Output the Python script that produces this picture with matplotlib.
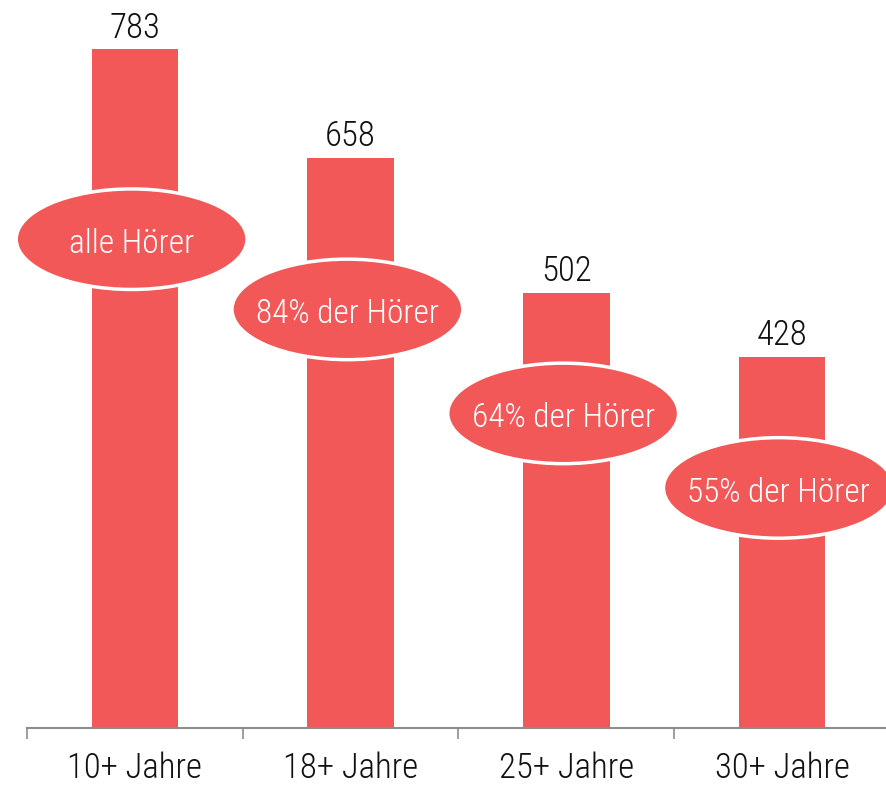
import matplotlib
matplotlib.use("Agg")
import matplotlib.pyplot as plt
from matplotlib.patches import Ellipse

# Daten
kategorien = ["10+ Jahre", "18+ Jahre", "25+ Jahre", "30+ Jahre"]
hoerer = [783, 658, 502, 428]
anteil_labels = ["alle Hörer", "84% der Hörer", "64% der Hörer", "55% der Hörer"]

# Layout der Ellipsen (Datenkoordinaten)
ellipse_y = [564, 483, 363, 277]
ellipse_w = 1.07
ellipse_h = 116

ROT = "#F25858"
TEXT = "#111111"

plt.rcParams["font.family"] = ["Roboto Condensed", "DejaVu Sans"]
plt.rcParams["font.weight"] = 300

fig = plt.figure(figsize=(8.87, 7.85), dpi=100)
W, H = 887, 785
ax = fig.add_axes([27 / W, (H - 728) / H, 863 / W, 728 / H])

x = list(range(len(kategorien)))
ax.bar(x, hoerer, width=0.4, color=ROT, zorder=2)

for xi, v in zip(x, hoerer):
    ax.annotate(str(v), (xi, v), xytext=(0, 8.5), textcoords="offset points",
                ha="center", va="baseline", fontsize=25, color=TEXT)

for xi, ey, lab in zip(x, ellipse_y, anteil_labels):
    e = Ellipse((xi - 0.015, ey), ellipse_w, ellipse_h, facecolor=ROT,
                edgecolor="white", linewidth=2.5, zorder=3, clip_on=False)
    ax.add_patch(e)
    ax.annotate(lab, (xi - 0.015, ey), xytext=(0, -10), textcoords="offset points",
                ha="center", va="baseline", fontsize=24, color="white", zorder=4)

ax.set_xlim(-0.5, 3.5)
ax.set_ylim(0, 840)

ax.set_xticks(x)
ax.set_xticklabels(kategorien, fontsize=25, color=TEXT)
ax.tick_params(axis="x", which="major", length=0, pad=17)
ax.set_xticks([-0.5, 0.5, 1.5, 2.5, 3.5], minor=True)
ax.tick_params(axis="x", which="minor", length=8, width=1.2, color="#8c8c8c")
ax.set_yticks([])

for s in ["top", "right", "left"]:
    ax.spines[s].set_visible(False)
ax.spines["bottom"].set_color("#8c8c8c")
ax.spines["bottom"].set_linewidth(1.5)

fig.savefig("out.png", dpi=100)
